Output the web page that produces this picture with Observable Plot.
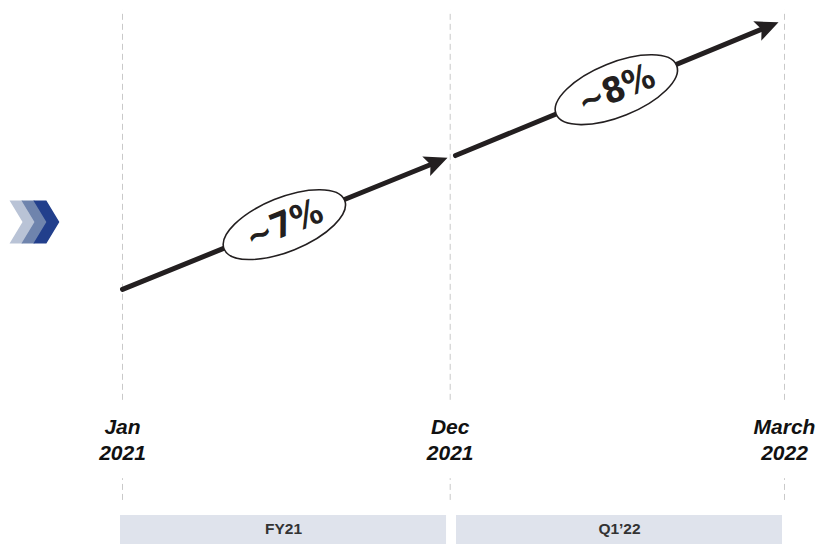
<!DOCTYPE html>
<html>
<head>
<meta charset="utf-8">
<script src="https://cdn.jsdelivr.net/npm/d3@7"></script>
<script src="https://cdn.jsdelivr.net/npm/@observablehq/plot@0.6"></script>
<style>
  html, body { margin: 0; padding: 0; background: #fff; }
  #chart svg { display: block; }
</style>
</head>
<body>
<div id="chart"></div>
<script>
// ---- data (period positions on x, abstract level on y) ----
const milestones = ["Jan\n2021", "Dec\n2021", "March\n2022"];
const milestoneX = [0, 0.99, 2];
const labelY = 19.5;

const gridTop = 98.2, gridBreakTop = 26.5, gridBreakBottom = 12.1, gridBottom = 8.1;

const segmentStartX = [0, 1.006];
const segmentEndX = [0.982, 1.982];
const segmentStartY = [46.9, 71.5];
const segmentEndY = [71.1, 96.0];

const growthLabels = ["~7%", "~8%"];
const growthX = [0.489, 1.492];
const growthY = [58.8, 83.6];

const periods = ["FY21", "Q1\u201922"];
const periodStart = [-0.006, 1.009];
const periodEnd = [0.979, 1.994];
const bandTop = 5.33, bandBottom = 0, bandTextY = 2.76;

const chevronX = [-0.302, -0.266, -0.230];
const chevronColors = ["#b9c3d6", "#6f84ad", "#223f8c"];
const chevronY = 59.3;

// ---- scales (shared with Plot so custom symbols can be oriented) ----
const xDomain = [0, 2], xRange = [122, 784];
const yDomain = [0, 100], yRange = [544, 0];
const sx = d3.scaleLinear(xDomain, xRange);
const sy = d3.scaleLinear(yDomain, yRange);

// ---- tables ----
const segments = segmentStartX.map((x, i) => ({x1: x, x2: segmentEndX[i], y1: segmentStartY[i], y2: segmentEndY[i]}));
const growth = growthLabels.map((t, i) => ({t, x: growthX[i], y: growthY[i]}));
const bands = periods.map((p, i) => ({p, x1: periodStart[i], x2: periodEnd[i]}));
const ms = milestones.map((m, i) => ({m, x: milestoneX[i]}));
const chevrons = chevronX.map((x, i) => ({x, c: chevronColors[i]}));
const grid = milestoneX.flatMap(x => [{x, y1: gridBreakTop, y2: gridTop}, {x, y1: gridBottom, y2: gridBreakBottom}]);

// ---- custom symbols ----
const ANGLE = -22 * Math.PI / 180;
function ellipseSymbol(rx, ry, theta) {
  const c = Math.cos(theta), s = Math.sin(theta), k = 0.5523;
  const p = (u, v) => [u * c - v * s, u * s + v * c];
  return {
    draw(ctx) {
      const pts = [
        [[rx, k * ry], [k * rx, ry], [0, ry]],
        [[-k * rx, ry], [-rx, k * ry], [-rx, 0]],
        [[-rx, -k * ry], [-k * rx, -ry], [0, -ry]],
        [[k * rx, -ry], [rx, -k * ry], [rx, 0]]
      ];
      ctx.moveTo(...p(rx, 0));
      for (const [a, b, e] of pts) ctx.bezierCurveTo(...p(...a), ...p(...b), ...p(...e));
      ctx.closePath();
    }
  };
}
function headSymbol(theta, len, half) {
  const c = Math.cos(theta), s = Math.sin(theta);
  const p = (u, v) => [u * c - v * s, u * s + v * c];
  return {
    draw(ctx) {
      ctx.moveTo(...p(0, 0));
      ctx.lineTo(...p(-len, half));
      ctx.lineTo(...p(-len * 0.8, 0));
      ctx.lineTo(...p(-len, -half));
      ctx.closePath();
    }
  };
}
const chevronSymbol = {
  draw(ctx) {
    ctx.moveTo(-13, -21.5);
    ctx.lineTo(0, -21.5);
    ctx.lineTo(13, 0);
    ctx.lineTo(0, 21.5);
    ctx.lineTo(-13, 21.5);
    ctx.lineTo(0, 0);
    ctx.closePath();
  }
};

const headMarks = segments.map(d => {
  const theta = Math.atan2(sy(d.y2) - sy(d.y1), sx(d.x2) - sx(d.x1));
  return Plot.dot([d], {x: "x2", y: "y2", symbol: headSymbol(theta, 23, 10.5), fill: "#231f20", stroke: "none"});
});

const chart = Plot.plot({
  width: 817,
  height: 544,
  margin: 0,
  x: {domain: xDomain, range: xRange, axis: null},
  y: {domain: yDomain, range: yRange, axis: null},
  color: {type: "identity"},
  style: {background: "#fff", fontFamily: "'Liberation Sans', Arial, sans-serif"},
  marks: [
    Plot.ruleX(grid, {x: "x", y1: "y1", y2: "y2", stroke: "#c9c9c9", strokeWidth: 1, strokeDasharray: "6,4"}),
    Plot.rect(bands, {x1: "x1", x2: "x2", y1: bandBottom, y2: bandTop, fill: "#dfe3ec"}),
    Plot.text(bands, {x: d => (d.x1 + d.x2) / 2, y: bandTextY, text: "p", fontSize: 15.5, fontWeight: "bold", fill: "#333"}),
    Plot.text(ms, {x: "x", y: labelY, text: "m", fontSize: 21, fontWeight: "bold", fontStyle: "italic", fill: "#111", lineHeight: 1.24}),
    Plot.arrow(segments, {x1: "x1", y1: "y1", x2: "x2", y2: "y2", stroke: "#231f20", strokeWidth: 5, headLength: 0, insetEnd: 12}),
    ...headMarks,
    Plot.dot(growth, {x: "x", y: "y", symbol: ellipseSymbol(65, 27, ANGLE), fill: "#fff", stroke: "#231f20", strokeWidth: 1.6}),
    Plot.text(growth, {x: "x", y: "y", text: "t", rotate: -22, fontSize: 35, fontWeight: "bold", fill: "#231f20", fontFamily: "'DejaVu Sans Condensed', 'DejaVu Sans', sans-serif"}),
    Plot.dot(chevrons, {x: "x", y: chevronY, symbol: chevronSymbol, fill: "c", stroke: "none"})
  ]
});
document.getElementById("chart").appendChild(chart);
</script>
</body>
</html>
